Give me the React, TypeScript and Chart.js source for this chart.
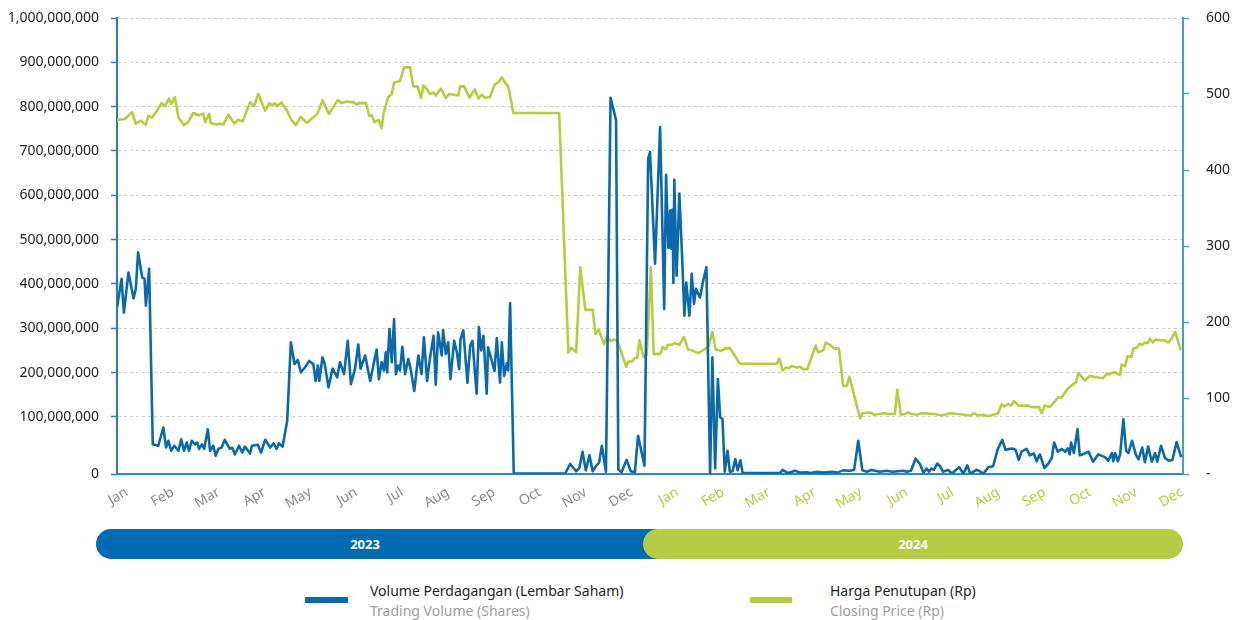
import { useEffect, useRef } from 'react';
import { Chart, registerables } from 'chart.js';

Chart.register(...registerables);

// Month labels along the time axis (Jan 2023 … Dec 2024)
const monthTicks = [
  'Jan', 'Feb', 'Mar', 'Apr', 'May', 'Jun', 'Jul', 'Aug', 'Sep', 'Oct', 'Nov', 'Dec',
  'Jan', 'Feb', 'Mar', 'Apr', 'May', 'Jun', 'Jul', 'Aug', 'Sep', 'Oct', 'Nov', 'Dec',
];
const years = ['2023', '2024'];

// Time of each volume observation, in months since 1 Jan 2023
const volumeMonth = [
  0, 0.10, 0.15, 0.25, 0.36, 0.41, 0.46, 0.55, 0.60, 0.63, 0.70, 0.78, 0.90, 1.01, 1.07, 1.12, 1.18, 1.25, 1.34, 1.40,
  1.46, 1.52, 1.57, 1.63, 1.70, 1.75, 1.79, 1.85, 1.90, 1.98, 2.03, 2.10, 2.15, 2.21, 2.28, 2.35, 2.46, 2.51, 2.57, 2.66,
  2.73, 2.79, 2.90, 2.94, 3.07, 3.14, 3.23, 3.34, 3.41, 3.48, 3.53, 3.61, 3.71, 3.79, 3.87, 3.94, 4.01, 4.10, 4.19, 4.28,
  4.33, 4.38, 4.41, 4.48, 4.53, 4.61, 4.70, 4.80, 4.86, 4.95, 5.03, 5.10, 5.19, 5.26, 5.31, 5.41, 5.52, 5.66, 5.71, 5.77,
  5.82, 5.86, 5.89, 5.94, 5.99, 6.04, 6.08, 6.13, 6.17, 6.22, 6.28, 6.35, 6.40, 6.48, 6.57, 6.64, 6.69, 6.76, 6.82, 6.90,
  6.95, 7.00, 7.08, 7.11, 7.17, 7.22, 7.27, 7.35, 7.41, 7.46, 7.49, 7.55, 7.64, 7.70, 7.75, 7.84, 7.89, 7.94, 7.99, 8.06,
  8.09, 8.15, 8.23, 8.28, 8.35, 8.39, 8.44, 8.50, 8.53, 8.57, 8.65, 9.77, 9.88, 10.01, 10.08, 10.15, 10.22, 10.30, 10.37, 10.44,
  10.51, 10.57, 10.66, 10.76, 10.88, 10.93, 11.00, 11.11, 11.20, 11.29, 11.36, 11.50, 11.58, 11.62, 11.73, 11.84, 11.93, 11.97, 12.02, 12.06,
  12.08, 12.11, 12.13, 12.15, 12.20, 12.26, 12.31, 12.37, 12.41, 12.48, 12.53, 12.58, 12.62, 12.71, 12.78, 12.85, 12.93, 12.98, 13.04, 13.10,
  13.15, 13.20, 13.25, 13.31, 13.36, 13.42, 13.48, 13.53, 13.59, 13.64, 14.45, 14.51, 14.63, 14.78, 14.89, 15.04, 15.13, 15.25, 15.39, 15.58,
  15.70, 15.83, 15.98, 16.07, 16.16, 16.25, 16.35, 16.45, 16.63, 16.78, 16.90, 17.14, 17.22, 17.31, 17.41, 17.51, 17.58, 17.65, 17.70, 17.76,
  17.81, 17.88, 17.94, 18.01, 18.12, 18.20, 18.36, 18.45, 18.54, 18.60, 18.74, 18.81, 18.89, 19.00, 19.10, 19.20, 19.30, 19.37, 19.51, 19.59,
  19.66, 19.72, 19.83, 19.90, 19.99, 20.05, 20.12, 20.22, 20.29, 20.38, 20.43, 20.51, 20.60, 20.67, 20.73, 20.77, 20.80, 20.86, 20.94, 20.99,
  21.10, 21.18, 21.28, 21.39, 21.54, 21.61, 21.69, 21.72, 21.76, 21.82, 21.87, 21.94, 22.00, 22.05, 22.13, 22.21, 22.27, 22.35, 22.41, 22.48,
  22.56, 22.63, 22.68, 22.76, 22.85, 22.93, 23.01, 23.10, 23.20,
];

// Trading volume, millions of shares
const volumeMillions = [
  365, 428, 354, 442, 385, 406, 486, 431, 428, 369, 450, 65, 62, 102, 58, 73, 51, 62, 51, 76,
  51, 69, 51, 73, 65, 69, 55, 65, 55, 98, 51, 62, 40, 55, 58, 75, 55, 58, 43, 62,
  47, 60, 45, 62, 64, 47, 75, 58, 67, 55, 67, 60, 116, 289, 241, 250, 223, 234, 248, 241,
  204, 238, 204, 256, 241, 190, 231, 212, 245, 219, 292, 197, 231, 284, 231, 260, 204, 273, 208, 245,
  227, 267, 223, 318, 245, 340, 219, 238, 227, 279, 219, 252, 231, 182, 260, 219, 300, 204, 252, 303,
  196, 311, 260, 315, 263, 289, 208, 292, 267, 230, 296, 315, 200, 282, 292, 176, 322, 271, 303, 176,
  278, 256, 226, 298, 201, 289, 215, 243, 227, 375, 1, 1, 22, 6, 13, 49, 8, 41, 6, 17,
  25, 62, 5, 825, 776, 10, 4, 31, 6, 4, 84, 18, 691, 706, 461, 761, 362, 656, 496, 578,
  494, 580, 419, 645, 435, 615, 500, 347, 420, 347, 439, 373, 406, 387, 424, 454, 1, 256, 12, 208,
  124, 121, 5, 51, 5, 6, 33, 8, 30, 2, 2, 9, 2, 7, 3, 4, 2, 5, 3, 5,
  3, 8, 7, 9, 73, 8, 5, 9, 5, 7, 5, 7, 5, 7, 34, 21, 3, 12, 5, 12,
  9, 23, 17, 5, 9, 1, 15, 1, 19, 1, 9, 6, 1, 15, 17, 54, 75, 53, 56, 53,
  31, 49, 55, 41, 45, 28, 43, 13, 21, 35, 69, 49, 55, 49, 56, 43, 69, 46, 98, 41,
  45, 49, 27, 43, 37, 29, 46, 28, 46, 28, 43, 120, 51, 46, 73, 43, 32, 58, 26, 60,
  27, 46, 27, 62, 35, 29, 31, 70, 37,
];

// Time of each closing price observation, in months since 1 Jan 2023
const priceMonth = [
  0, 0.17, 0.33, 0.41, 0.52, 0.63, 0.68, 0.76, 0.87, 0.97, 1.05, 1.13, 1.19, 1.26, 1.34, 1.46, 1.55, 1.66, 1.77, 1.88,
  1.92, 2.01, 2.04, 2.16, 2.25, 2.32, 2.43, 2.56, 2.64, 2.74, 2.90, 2.99, 3.08, 3.23, 3.32, 3.39, 3.44, 3.50, 3.58, 3.70,
  3.79, 3.90, 4.00, 4.14, 4.37, 4.48, 4.62, 4.81, 4.90, 5.01, 5.15, 5.23, 5.26, 5.43, 5.50, 5.56, 5.61, 5.70, 5.77, 5.81,
  5.91, 5.99, 6.04, 6.17, 6.26, 6.39, 6.46, 6.55, 6.63, 6.68, 6.76, 6.82, 6.90, 6.95, 7.06, 7.17, 7.24, 7.44, 7.48, 7.57,
  7.68, 7.80, 7.88, 7.95, 8.02, 8.13, 8.24, 8.31, 8.39, 8.46, 8.53, 8.64, 9.64, 9.84, 9.91, 10.01, 10.10, 10.21, 10.37, 10.43,
  10.50, 10.62, 10.68, 10.76, 10.84, 10.91, 10.98, 11.10, 11.15, 11.23, 11.29, 11.34, 11.39, 11.48, 11.55, 11.64, 11.70, 11.84, 11.90, 11.97,
  12.00, 12.09, 12.16, 12.26, 12.36, 12.45, 12.56, 12.67, 12.78, 12.89, 12.98, 13.05, 13.17, 13.25, 13.36, 13.58, 14.38, 14.44, 14.51, 14.58,
  14.65, 14.71, 14.82, 14.89, 14.96, 15.05, 15.23, 15.29, 15.40, 15.45, 15.54, 15.64, 15.74, 15.83, 15.91, 15.97, 16.05, 16.20, 16.25, 16.42,
  16.50, 16.71, 16.82, 16.96, 17.01, 17.09, 17.18, 17.25, 17.33, 17.43, 17.54, 17.83, 17.98, 18.16, 18.49, 18.60, 18.69, 18.77, 18.89, 19.00,
  19.10, 19.21, 19.29, 19.34, 19.43, 19.49, 19.56, 19.65, 19.87, 19.94, 20.10, 20.16, 20.22, 20.34, 20.52, 20.58, 20.74, 20.91, 20.96, 21.10,
  21.21, 21.39, 21.50, 21.58, 21.63, 21.74, 21.87, 21.90, 21.98, 22.03, 22.11, 22.16, 22.23, 22.29, 22.35, 22.41, 22.47, 22.52, 22.58, 22.64,
  22.74, 22.83, 22.92, 22.99, 23.07, 23.19,
];

// Closing price, Rp
const priceRp = [
  466, 467, 476, 461, 465, 459, 471, 469, 478, 488, 484, 494, 487, 496, 469, 459, 463, 475, 472, 474,
  463, 474, 462, 460, 461, 460, 473, 461, 466, 464, 489, 484, 500, 478, 488, 485, 488, 484, 489, 479,
  467, 459, 470, 462, 474, 492, 474, 492, 488, 490, 489, 486, 488, 488, 471, 472, 463, 466, 455, 474,
  496, 500, 515, 517, 535, 535, 510, 510, 495, 511, 506, 500, 502, 498, 507, 495, 500, 498, 510, 510,
  495, 506, 494, 499, 495, 496, 513, 515, 522, 515, 510, 475, 475, 160, 166, 160, 272, 216, 216, 184,
  190, 171, 181, 175, 177, 175, 163, 141, 148, 148, 153, 153, 176, 154, 157, 272, 158, 158, 167, 164,
  170, 170, 172, 170, 180, 164, 162, 159, 163, 167, 187, 164, 162, 165, 166, 145, 145, 152, 136, 140,
  139, 142, 140, 141, 138, 138, 169, 160, 163, 173, 170, 165, 165, 116, 116, 128, 108, 73, 80, 81,
  78, 80, 79, 79, 111, 78, 79, 81, 79, 78, 80, 79, 77, 80, 78, 77, 80, 77, 78, 76,
  78, 80, 92, 89, 92, 90, 96, 90, 90, 88, 88, 80, 90, 88, 101, 100, 113, 121, 133, 123,
  129, 127, 126, 132, 131, 134, 130, 144, 142, 155, 154, 165, 166, 171, 170, 173, 172, 178, 173, 177,
  176, 176, 173, 178, 187, 163,
];

// Axis tick values
const volumeTickMillions = [100, 200, 300, 400, 500, 600, 700, 800, 900, 1000];
const priceTicks = [0, 100, 200, 300, 400, 500, 600];

const BLUE = '#0a69ad';
const GREEN = '#b5cc3f';
const FONT = 'Noto Sans';

const noPad = (s: any) => {
  s.paddingTop = 0;
  s.paddingBottom = 0;
};

export default function App() {
  const ref = useRef<HTMLCanvasElement>(null);

  useEffect(() => {
    if (!ref.current) return;
    const chart = new Chart(ref.current, {
      type: 'line',
      data: {
        datasets: [
          {
            label: 'Volume Perdagangan (Lembar Saham)',
            data: volumeMonth.map((t, i) => ({ x: t, y: volumeMillions[i] * 1e6 })),
            yAxisID: 'yVol',
            borderColor: BLUE,
            borderWidth: 2.6,
            borderJoinStyle: 'round',
            pointRadius: 0,
            tension: 0,
          },
          {
            label: 'Harga Penutupan (Rp)',
            data: priceMonth.map((t, i) => ({ x: t, y: priceRp[i] })),
            yAxisID: 'yPrice',
            borderColor: GREEN,
            borderWidth: 2.6,
            borderJoinStyle: 'round',
            pointRadius: 0,
            tension: 0,
          },
        ],
      },
      options: {
        animation: false,
        responsive: false,
        maintainAspectRatio: false,
        layout: { padding: { top: 18, left: 0, right: 0, bottom: 0 } },
        plugins: { legend: { display: false }, tooltip: { enabled: false } },
        scales: {
          x: {
            type: 'linear',
            min: 0,
            max: 23.24,
            grid: { display: false },
            border: { display: true, color: '#2f87ca', width: 2 },
            afterBuildTicks: (s: any) => {
              s.ticks = monthTicks.map((_, i) => ({ value: i }));
            },
            afterFit: (s: any) => {
              s.height = 46;
              s.paddingLeft = 0;
              s.paddingRight = 0;
            },
            ticks: {
              autoSkip: false,
              minRotation: 30,
              maxRotation: 30,
              labelOffset: 10,
              padding: 2,
              font: { family: FONT, size: 14 },
              color: (c: any) => (c.index < 12 ? '#8a8a8a' : GREEN),
              callback: (_v: any, i: number) => monthTicks[i],
            },
          },
          yAxis: {
            type: 'linear',
            position: 'left',
            min: -28.6e6,
            max: 1000e6,
            afterBuildTicks: (s: any) => {
              s.ticks = [s.min, ...volumeTickMillions.map((m) => m * 1e6)].map((v) => ({ value: v }));
            },
            afterFit: (s: any) => {
              s.width = 117;
              noPad(s);
            },
            ticks: {
              padding: 12,
              font: { family: FONT, size: 14 },
              color: '#222222',
              callback: (v: any, i: number) => (i === 0 ? '0' : Number(v).toLocaleString('en-US')),
            },
            grid: {
              color: '#cccccc',
              lineWidth: 1,
              tickColor: '#1f7fc6',
              tickLength: 6,
              tickWidth: 1.5,
              tickBorderDash: [],
            },
            border: { color: '#1f7fc6', width: 2, dash: [3, 3] },
          },
          yVol: { type: 'linear', display: false, min: 0, max: 1000e6 },
          yPrice: {
            type: 'linear',
            position: 'right',
            min: 0,
            max: 600,
            afterBuildTicks: (s: any) => {
              s.ticks = priceTicks.map((v) => ({ value: v }));
            },
            afterFit: (s: any) => {
              s.width = 55;
              noPad(s);
            },
            ticks: {
              padding: 17,
              font: { family: FONT, size: 14 },
              color: '#222222',
              callback: (v: any) => (Number(v) === 0 ? '-' : String(v)),
            },
            grid: { drawOnChartArea: false, tickColor: '#4a9bd3', tickLength: 6, tickWidth: 1.5 },
            border: { color: '#4a9bd3', width: 2 },
          },
        },
      },
    });
    return () => chart.destroy();
  }, []);

  const legendMain: React.CSSProperties = {
    position: 'absolute',
    fontFamily: FONT,
    fontSize: 14,
    color: '#231f20',
    whiteSpace: 'nowrap',
    lineHeight: '18px',
  };
  const legendSub: React.CSSProperties = { ...legendMain, color: '#9d9d9d' };
  const yearText: React.CSSProperties = {
    position: 'absolute',
    top: 0,
    height: 30,
    lineHeight: '30px',
    textAlign: 'center',
    color: '#ffffff',
    fontFamily: FONT,
    fontWeight: 700,
    fontSize: 13,
  };

  return (
    <div style={{ position: 'absolute', left: 0, top: 0, width: 1238, height: 620, background: '#ffffff' }}>
      <canvas ref={ref} width={1238} height={520} style={{ position: 'absolute', left: 0, top: 0, width: 1238, height: 520 }} />
      <div style={{ position: 'absolute', left: 96, top: 529, width: 1087, height: 30 }}>
        <div style={{ position: 'absolute', left: 0, top: 0, width: 580, height: 30, borderRadius: 15, background: '#006bb0' }} />
        <div style={{ position: 'absolute', left: 547, top: 0, width: 540, height: 30, borderRadius: 15, background: '#b5cc44' }} />
        <div style={{ ...yearText, left: 0, width: 538 }}>{years[0]}</div>
        <div style={{ ...yearText, left: 547, width: 540 }}>{years[1]}</div>
      </div>
      <div style={{ position: 'absolute', left: 305, top: 597, width: 43, height: 6, background: BLUE }} />
      <div style={{ ...legendMain, left: 370, top: 582 }}>Volume Perdagangan (Lembar Saham)</div>
      <div style={{ ...legendSub, left: 370, top: 602 }}>Trading Volume (Shares)</div>
      <div style={{ position: 'absolute', left: 750, top: 597, width: 42, height: 6, background: GREEN }} />
      <div style={{ ...legendMain, left: 830, top: 582 }}>Harga Penutupan (Rp)</div>
      <div style={{ ...legendSub, left: 830, top: 602 }}>Closing Price (Rp)</div>
    </div>
  );
}
